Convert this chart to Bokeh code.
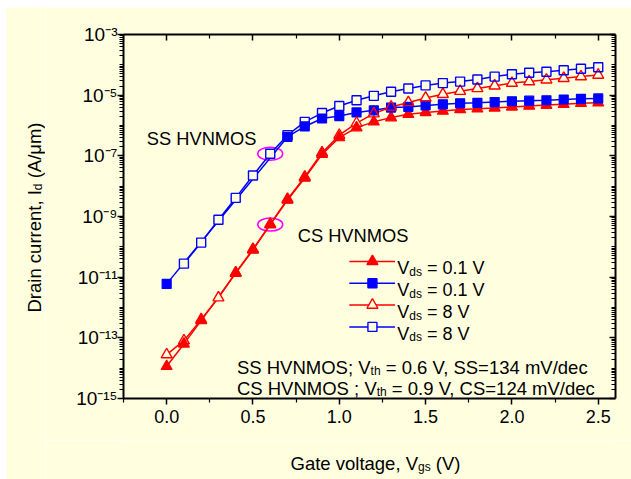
import math
from bokeh.plotting import figure
from bokeh.layouts import row, column
from bokeh.models import (Range1d, LogAxis, LinearAxis, FixedTicker, CustomJSTickFormatter,
                          Label, Spacer)
from bokeh.core.properties import value
from bokeh.embed import file_html
from bokeh.resources import INLINE

# ---------------- data ----------------
# CS HVNMOS, Vds = 0.1 V (filled red triangles)
cs_lo_x = [0.0, 0.1, 0.2, 0.4, 0.5, 0.6, 0.7, 0.8, 0.9, 1.0, 1.1, 1.2, 1.3, 1.4, 1.5,
           1.6, 1.7, 1.8, 1.9, 2.0, 2.1, 2.2, 2.3, 2.4, 2.5]
cs_lo_y = [1.15e-14, 6.3e-14, 3.7e-13, 1.35e-11, 7.9e-11, 5.4e-10, 3.5e-9, 1.86e-8, 1.12e-7,
           4.0e-7, 8.5e-7, 1.32e-6, 1.82e-6, 2.34e-6, 2.7e-6, 3.0e-6, 3.4e-6, 3.55e-6, 3.8e-6,
           4.1e-6, 4.4e-6, 4.7e-6, 5.0e-6, 5.4e-6, 5.6e-6]
# SS HVNMOS, Vds = 0.1 V (filled blue squares)
ss_lo_x = [0.0, 0.7, 0.8, 0.9, 1.0, 1.1, 1.2, 1.3, 1.4, 1.5, 1.6, 1.7, 1.8, 1.9, 2.0,
           2.1, 2.2, 2.3, 2.4, 2.5]
ss_lo_y = [6.0e-12, 4.2e-7, 9.3e-7, 1.7e-6, 2.04e-6, 2.7e-6, 3.16e-6, 3.9e-6, 4.1e-6, 4.6e-6,
           5.0e-6, 5.4e-6, 5.6e-6, 5.9e-6, 6.3e-6, 6.6e-6, 6.8e-6, 7.2e-6, 7.6e-6, 7.8e-6]
# CS HVNMOS, Vds = 8 V (open red triangles)
cs_hi_x = [0.0, 0.1, 0.2, 0.3, 0.4, 0.5, 0.6, 0.7, 0.8, 0.9, 1.0, 1.1, 1.2, 1.3, 1.4, 1.5,
           1.6, 1.7, 1.8, 1.9, 2.0, 2.1, 2.2, 2.3, 2.4, 2.5]
cs_hi_y = [2.8e-14, 8.1e-14, 4.0e-13, 2.1e-12, 1.41e-11, 8.3e-11, 5.6e-10, 3.7e-9, 2.0e-8,
           1.26e-7, 4.8e-7, 1.2e-6, 2.45e-6, 4.1e-6, 5.75e-6, 8.1e-6, 1.07e-5, 1.35e-5,
           1.66e-5, 2.04e-5, 2.5e-5, 2.8e-5, 3.2e-5, 3.6e-5, 4.1e-5, 4.6e-5]
# SS HVNMOS, Vds = 8 V (open blue squares)
ss_hi_x = [0.1, 0.2, 0.3, 0.4, 0.5, 0.6, 0.7, 0.8, 0.9, 1.0, 1.1, 1.2, 1.3, 1.4, 1.5,
           1.6, 1.7, 1.8, 1.9, 2.0, 2.1, 2.2, 2.3, 2.4, 2.5]
ss_hi_y = [2.8e-11, 1.38e-10, 7.8e-10, 4.1e-9, 2.24e-8, 1.17e-7, 4.8e-7, 1.32e-6, 2.57e-6,
           4.4e-6, 6.8e-6, 9.5e-6, 1.29e-5, 1.66e-5, 2.1e-5, 2.5e-5, 2.8e-5, 3.3e-5, 4.1e-5,
           4.9e-5, 5.5e-5, 5.9e-5, 6.6e-5, 7.4e-5, 8.3e-5]

x_major_ticks = [0.0, 0.5, 1.0, 1.5, 2.0, 2.5]
x_minor_ticks = [-0.25, 0.25, 0.75, 1.25, 1.75, 2.25]
y_major_exps = [-15, -13, -11, -9, -7, -5, -3]

legend_rows = [
    ("red", "triangle", True, [("V", False), ("ds", True), (" = 0.1 V", False)]),
    ("blue", "square", True, [("V", False), ("ds", True), (" = 0.1 V", False)]),
    ("red", "triangle", False, [("V", False), ("ds", True), (" = 8 V", False)]),
    ("blue", "square", False, [("V", False), ("ds", True), (" = 8 V", False)]),
]
note1 = [("SS HVNMOS; V", False), ("th", True), (" = 0.6 V, SS=134 mV/dec", False)]
note2 = [("CS HVNMOS ; V", False), ("th", True), (" = 0.9 V, CS=124 mV/dec", False)]
xlabel = [("Gate voltage, V", False), ("gs", True), (" (V)", False)]
ylabel = [("Drain current, I", False), ("d", True), (" (A/\u03bcm)", False)]

# ---------------- style ----------------
BG = "#FFFFE0"
RED = "#FF0000"
BLUE = "#0000FF"
MAG = "#FF00FF"
FONT = "Liberation Sans"

LEG_X0, LEG_X1, LEG_XM, LEG_XT = 1.058, 1.323, 1.192, 1.336
LEG_Y = [10 ** -10.48, 10 ** -11.20, 10 ** -11.92, 10 ** -12.64]

W = {' ': .278, '(': .333, ')': .333, ',': .278, '.': .278, '/': .278, ';': .278, '=': .584,
     'A': .667, 'C': .722, 'D': .722, 'G': .778, 'H': .722, 'I': .278, 'M': .833, 'N': .722,
     'O': .778, 'S': .667, 'V': .667, 'a': .556, 'c': .5, 'd': .556, 'e': .556, 'g': .556,
     'h': .556, 'i': .222, 'l': .222, 'm': .833, 'n': .556, 'o': .556, 'r': .333, 's': .5,
     't': .278, 'u': .556, 'v': .5, '\u03bc': .576}


def tw(s, size):
    return sum(W.get(ch, .556) for ch in s) * size


# ---------------- main plot ----------------
FRAME_W = 492
p = figure(width=586, height=433, x_range=Range1d(-0.25, 2.6), y_range=Range1d(1e-15, 1e-3),
           y_axis_type="log", output_backend="svg", toolbar_location=None,
           min_border_left=78, min_border_right=16, min_border_top=27, min_border_bottom=42,
           background_fill_color=BG, border_fill_color=BG)
p.grid.visible = False
p.outline_line_color = None

xt = FixedTicker(ticks=x_major_ticks, minor_ticks=x_minor_ticks)
y_major = [10.0 ** e for e in y_major_exps]
y_minor = [k * 10.0 ** d for d in range(-15, -3) for k in range(1, 10)
           if not (k == 1 and d in y_major_exps)]
yt = FixedTicker(ticks=y_major, minor_ticks=y_minor)

sup_fmt = CustomJSTickFormatter(code="""
const e = Math.round(Math.log10(tick));
const m = {"-":"\u207b","0":"\u2070","1":"\u00b9","2":"\u00b2","3":"\u00b3","4":"\u2074",
           "5":"\u2075","6":"\u2076","7":"\u2077","8":"\u2078","9":"\u2079"};
return "10" + String(e).split("").map(c => m[c]).join("");
""")
blank = CustomJSTickFormatter(code="return '';")
xfmt = CustomJSTickFormatter(code="return tick.toFixed(1);")


def style_axis(ax, inward, size="18px"):
    ax.axis_line_width = 2
    ax.axis_line_color = "black"
    ax.major_tick_line_width = 1.5
    ax.minor_tick_line_width = 1.2
    ax.major_tick_line_color = "black"
    ax.minor_tick_line_color = "black"
    if inward:
        ax.major_tick_in, ax.major_tick_out = 6, 0
        ax.minor_tick_in, ax.minor_tick_out = 4, 0
    else:
        ax.major_tick_in, ax.major_tick_out = 0, 6
        ax.minor_tick_in, ax.minor_tick_out = 0, 4
    ax.major_label_text_font = FONT
    ax.major_label_text_font_size = size
    ax.major_label_text_color = "black"


xa = p.xaxis[0]
xa.ticker = xt
xa.formatter = xfmt
style_axis(xa, False, "18px")
xa.major_label_standoff = 5

ya = p.yaxis[0]
ya.ticker = yt
ya.formatter = sup_fmt
style_axis(ya, False, "19px")
ya.major_label_standoff = 0

ta = LinearAxis(ticker=xt, formatter=blank)
style_axis(ta, True)
p.add_layout(ta, "above")
ra = LogAxis(ticker=yt, formatter=blank)
style_axis(ra, True)
p.add_layout(ra, "right")

# rotating-arrow ellipses
p.ellipse(x=[ss_hi_x[ss_hi_x.index(0.6)], cs_lo_x[cs_lo_x.index(0.6)]],
          y=[ss_hi_y[ss_hi_x.index(0.6)], cs_lo_y[cs_lo_x.index(0.6)]],
          width=25, height=13, width_units="screen", height_units="screen",
          fill_color=None, line_color=MAG, line_width=1.5)

series = [
    (cs_lo_x, cs_lo_y, RED, "triangle", True, 11),
    (ss_lo_x, ss_lo_y, BLUE, "square", True, 9),
    (cs_hi_x, cs_hi_y, RED, "triangle", False, 11),
    (ss_hi_x, ss_hi_y, BLUE, "square", False, 9),
]
for xs, ys, c, mk, filled, sz in series:
    p.line(xs, ys, line_color=c, line_width=1.5)
for xs, ys, c, mk, filled, sz in series:
    if not filled:
        p.scatter(xs, ys, marker=mk, size=sz, fill_color=BG, line_color=None)
for xs, ys, c, mk, filled, sz in series:
    if filled:
        p.scatter(xs, ys, marker=mk, size=sz, fill_color=c, line_color=c, line_width=1.2)
for xs, ys, c, mk, filled, sz in series:
    if not filled:
        p.scatter(xs, ys, marker=mk, size=sz, fill_color=None, line_color=c, line_width=1.4)


def rich(parts, x, y, base=18.0, sub=12.0, drop=3.5, yoff=0.0):
    acc = 0.0
    for txt, is_sub in parts:
        size = sub if is_sub else base
        lead = len(txt) - len(txt.lstrip(" "))
        start = acc + tw(txt[:lead], size)
        p.add_layout(Label(x=x, y=y, x_offset=start, y_offset=yoff + (-drop if is_sub else 0.0),
                           text=txt.strip(" "), text_font=FONT, text_font_size=f"{size}px",
                           text_color="black", text_baseline="alphabetic", text_align="left"))
        acc += tw(txt, size)


for (c, mk, filled, parts), ly in zip(legend_rows, LEG_Y):
    p.segment(x0=[LEG_X0], y0=[ly], x1=[LEG_X1], y1=[ly], line_color=c, line_width=1.5)
    sz = 11 if mk == "triangle" else 9
    p.scatter([LEG_XM], [ly], marker=mk, size=sz, fill_color=c if filled else BG,
              line_color=c, line_width=1.4)
    rich(parts, LEG_XT, ly, yoff=-7)

rich([("SS HVNMOS", False)], -0.115, 10 ** -6.43, base=18.3)
rich([("CS HVNMOS", False)], 0.759, 10 ** -9.64, base=18.3)
rich(note1, 0.407, 10 ** -13.97, base=18.5)
rich(note2, 0.407, 10 ** -14.66, base=18.5)


# ---------------- axis-title strips ----------------
def strip(w, h, xr):
    f = figure(width=w, height=h, x_range=Range1d(0, xr), y_range=Range1d(0, h),
               x_axis_type=None, y_axis_type=None, output_backend="svg", toolbar_location=None,
               min_border=0, background_fill_color=BG, border_fill_color=BG)
    f.outline_line_color = None
    f.grid.visible = False
    return f


def rich_glyph(f, parts, x, y, rotated, base=18.5, sub=12.0, drop=3.5):
    acc = 0.0
    for txt, is_sub in parts:
        size = sub if is_sub else base
        lead = len(txt) - len(txt.lstrip(" "))
        start = acc + tw(txt[:lead], size)
        if rotated:
            px, py = x + (drop if is_sub else 0.0), y + start
        else:
            px, py = x + start, y - (drop if is_sub else 0.0)
        f.text(x=[px], y=[py], text=[txt.strip(" ")], angle=math.pi / 2 if rotated else 0.0,
               text_font=value(FONT), text_font_size=value(f"{size}px"),
               text_baseline="alphabetic", text_align="left", text_color="black")
        acc += tw(txt, size)


yl = strip(39, 472, 39)
rich_glyph(yl, ylabel, 28.3, 167, True)
# the bottom strip's frame is aligned with the main plot frame (492 px wide)
xl = strip(586, 39, FRAME_W)
rich_glyph(xl, xlabel, 167, 16.3, False)

layout = column(Spacer(width=631, height=7),
                row(Spacer(width=6, height=472), yl, column(p, xl)))

with open("out.html", "w", encoding="utf-8") as f:
    f.write(file_html(layout, INLINE))
